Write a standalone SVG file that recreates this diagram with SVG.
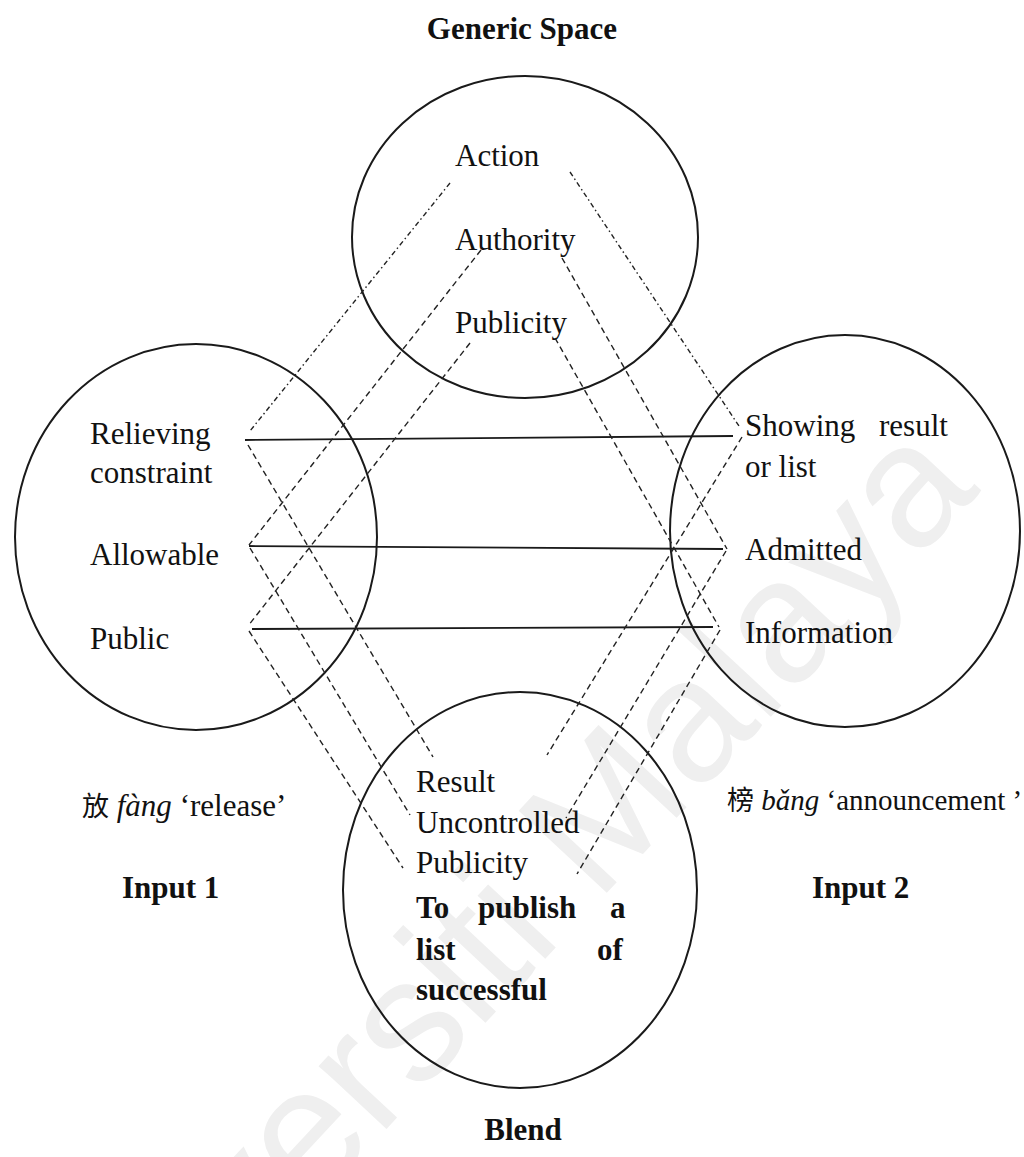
<svg xmlns="http://www.w3.org/2000/svg" width="1024" height="1157" viewBox="0 0 1024 1157">
  <style>
    .txt { font-family: "Liberation Serif", "Times New Roman", serif; font-size: 31px; fill: #111; }
    .bold { font-weight: bold; }
    .it { font-style: italic; }
    .cjk { font-family: "Noto Sans CJK SC", "Noto Sans CJK TC", sans-serif; font-size: 27px; }
    .gloss { font-size: 29px; }
    .ring { fill: none; stroke: #1a1a1a; stroke-width: 2; }
    .solid { stroke: #1a1a1a; stroke-width: 1.8; fill: none; }
    .dash { stroke: #222; stroke-width: 1.4; fill: none; stroke-dasharray: 6 4; }
    .dashdot { stroke: #222; stroke-width: 1.4; fill: none; stroke-dasharray: 5 3 1.5 3; }
    .mark { font-family: "Liberation Sans", Arial, sans-serif; font-size: 175px; fill: #efefef; }
  </style>

  <rect width="1024" height="1157" fill="#ffffff"/>

  <!-- faint background lettering -->
  <text class="mark" transform="translate(73,1465) rotate(-47)">Universiti Malaya</text>

  <!-- Generic space -->
  <g id="generic-space">
    <text class="txt bold" x="522" y="39" text-anchor="middle">Generic Space</text>
    <ellipse class="ring" cx="525" cy="237" rx="173" ry="161"/>
    <text class="txt" x="455" y="166">Action</text>
    <text class="txt" x="455" y="250">Authority</text>
    <text class="txt" x="455" y="333">Publicity</text>
  </g>

  <!-- Input 1 -->
  <g id="input-1">
    <ellipse class="ring" cx="196" cy="537" rx="181" ry="193"/>
    <text class="txt" x="90" y="444">Relieving</text>
    <text class="txt" x="90" y="483">constraint</text>
    <text class="txt" x="90" y="565">Allowable</text>
    <text class="txt" x="90" y="649">Public</text>
    <text class="txt" x="82" y="816"><tspan class="cjk">放</tspan> <tspan class="it">fàng</tspan> ‘release’</text>
    <text class="txt bold" x="122" y="898">Input 1</text>
  </g>

  <!-- Input 2 -->
  <g id="input-2">
    <ellipse class="ring" cx="845" cy="531" rx="175" ry="196"/>
    <text class="txt" x="745" y="436">Showing</text>
    <text class="txt" x="879" y="436">result</text>
    <text class="txt" x="745" y="477">or list</text>
    <text class="txt" x="745" y="560">Admitted</text>
    <text class="txt" x="745" y="643">Information</text>
    <text class="txt gloss" x="727" y="810"><tspan class="cjk">榜</tspan> <tspan class="it">bǎng</tspan> ‘announcement ’</text>
    <text class="txt bold" x="812" y="898">Input 2</text>
  </g>

  <!-- Blend -->
  <g id="blend">
    <ellipse class="ring" cx="520" cy="890" rx="177" ry="198"/>
    <text class="txt" x="416" y="792">Result</text>
    <text class="txt" x="416" y="833">Uncontrolled</text>
    <text class="txt" x="416" y="873">Publicity</text>
    <text class="txt bold" x="416" y="918">To</text>
    <text class="txt bold" x="478" y="918">publish</text>
    <text class="txt bold" x="610" y="918">a</text>
    <text class="txt bold" x="416" y="960">list</text>
    <text class="txt bold" x="597" y="960">of</text>
    <text class="txt bold" x="416" y="1000">successful</text>
    <text class="txt bold" x="523" y="1140" text-anchor="middle">Blend</text>
  </g>

  <!-- mappings between the spaces -->
  <g id="connectors">
    <!-- cross-space links between the inputs -->
    <line class="solid" x1="245" y1="440" x2="733" y2="436"/>
    <line class="solid" x1="249" y1="546" x2="723" y2="549"/>
    <line class="solid" x1="252" y1="629" x2="713" y2="627"/>

    <!-- generic space to input 1 -->
    <line class="dashdot" x1="450" y1="183" x2="250" y2="431"/>
    <line class="dash" x1="481" y1="250" x2="249" y2="545"/>
    <line class="dash" x1="470" y1="343" x2="248" y2="626"/>

    <!-- generic space to input 2 -->
    <line class="dashdot" x1="570" y1="172" x2="739" y2="426"/>
    <line class="dash" x1="562" y1="258" x2="727" y2="549"/>
    <line class="dash" x1="555" y1="338" x2="719" y2="627"/>

    <!-- input 1 to blend -->
    <line class="dash" x1="248" y1="445" x2="433" y2="757"/>
    <line class="dash" x1="250" y1="548" x2="410" y2="815"/>
    <line class="dash" x1="249" y1="631" x2="403" y2="868"/>

    <!-- input 2 to blend -->
    <line class="dash" x1="742" y1="437" x2="547" y2="755"/>
    <line class="dash" x1="726" y1="551" x2="566" y2="818"/>
    <line class="dash" x1="720" y1="630" x2="577" y2="874"/>
  </g>
</svg>
